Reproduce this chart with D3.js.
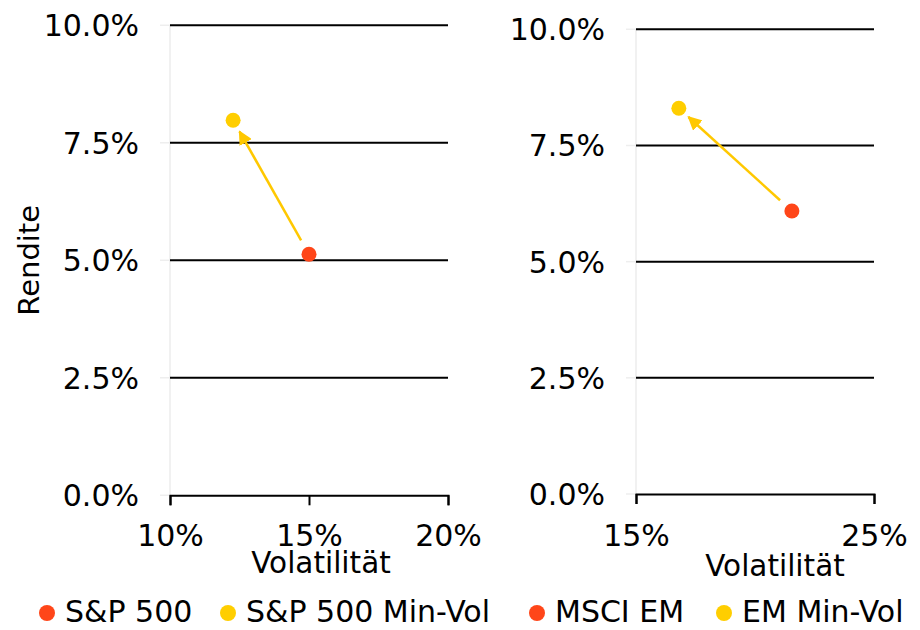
<!DOCTYPE html>
<html>
<head>
<meta charset="utf-8">
<script src="https://cdn.jsdelivr.net/npm/d3@7"></script>
<style>
  html, body { margin: 0; padding: 0; background: #fff; }
  svg text { font-family: "DejaVu Sans", sans-serif; fill: #000; }
</style>
</head>
<body>
<svg id="chart" width="920" height="630"></svg>
<script>
// ---- Data ----
const seriesNames = ["S&P 500", "S&P 500 Min-Vol", "MSCI EM", "EM Min-Vol"];
const seriesColors = ["#FF4619", "#FFCE00", "#FF4619", "#FFCE00"];
const volatility = [15.0, 12.27, 21.55, 16.8];   // x values (%)
const returns = [5.13, 7.98, 6.09, 8.30];         // y values (%)
const panelOfSeries = [0, 0, 1, 1];
const yTicks = [0, 2.5, 5, 7.5, 10];
const leftXTicks = [10, 15, 20];
const rightXTicks = [15, 25];
const leftXDomain = [10, 20];
const rightXDomain = [15, 25];
const yDomain = [0, 10];
const arrowColor = "#FFC800";

const svg = d3.select("#chart");

const panels = [
  { xDomain: leftXDomain, xTicks: leftXTicks, xRange: [170, 448], yRange: [495.3, 25.3], titleX: 321, titleY: 573, showYTitle: true },
  { xDomain: rightXDomain, xTicks: rightXTicks, xRange: [636, 874], yRange: [494, 29.3], titleX: 775, titleY: 576, showYTitle: false }
];

svg.append("defs").append("marker")
  .attr("id", "arrowhead")
  .attr("viewBox", "0 0 10 10")
  .attr("refX", 9).attr("refY", 5)
  .attr("markerUnits", "userSpaceOnUse")
  .attr("markerWidth", 14).attr("markerHeight", 14)
  .attr("orient", "auto")
  .append("path")
  .attr("d", "M0,0 L10,5 L0,10 Z")
  .attr("fill", arrowColor);

panels.forEach((p, pi) => {
  const x = d3.scaleLinear().domain(p.xDomain).range(p.xRange);
  const y = d3.scaleLinear().domain(yDomain).range(p.yRange);
  const g = svg.append("g");

  // light vertical axis line
  g.append("line")
    .attr("x1", x.range()[0]).attr("x2", x.range()[0])
    .attr("y1", y(yDomain[1])).attr("y2", y(yDomain[0]))
    .attr("stroke", "#ececec").attr("stroke-width", 1.5);

  // light tick stubs at y axis
  g.selectAll(".ystub").data(yTicks).enter().append("line")
    .attr("x1", x.range()[0] - 10).attr("x2", x.range()[0])
    .attr("y1", d => y(d)).attr("y2", d => y(d))
    .attr("stroke", "#eeeeee").attr("stroke-width", 1.5);

  // grid lines
  g.selectAll(".grid").data(yTicks.filter(d => d > 0)).enter().append("line")
    .attr("x1", x.range()[0]).attr("x2", x.range()[1])
    .attr("y1", d => y(d)).attr("y2", d => y(d))
    .attr("stroke", "#000").attr("stroke-width", 2);

  // y tick labels
  g.selectAll(".ylab").data(yTicks).enter().append("text")
    .attr("x", x.range()[0] - 31)
    .attr("y", d => y(d) + 11)
    .attr("text-anchor", "end")
    .attr("font-size", 30)
    .text(d => d.toFixed(1) + "%");

  // x axis
  const xAxis = d3.axisBottom(x).tickValues(p.xTicks).tickSize(10).tickSizeOuter(10).tickFormat(d => d + "%");
  const ax = g.append("g").attr("transform", `translate(0,${y(0)})`).call(xAxis);
  ax.select(".domain").attr("stroke", "#000").attr("stroke-width", 2);
  ax.selectAll(".tick line").attr("stroke", "#000").attr("stroke-width", 2);
  ax.selectAll(".tick text")
    .attr("font-size", 30)
    .attr("font-family", "DejaVu Sans")
    .attr("fill", "#000")
    .attr("dy", null)
    .attr("y", 547 - y(0) - 1);

  // x title
  g.append("text")
    .attr("x", p.titleX).attr("y", p.titleY)
    .attr("text-anchor", "middle")
    .attr("font-size", 29.5)
    .text("Volatilität");

  if (p.showYTitle) {
    g.append("text")
      .attr("transform", `translate(39,${(y(0) + y(10)) / 2}) rotate(-90)`)
      .attr("text-anchor", "middle")
      .attr("font-size", 29)
      .text("Rendite");
  }

  // arrows from index to min-vol
  const idx = seriesNames.map((n, i) => i).filter(i => panelOfSeries[i] === pi);
  const from = idx[0], to = idx[1];
  const x0 = x(volatility[from]), y0 = y(returns[from]);
  const x1 = x(volatility[to]), y1 = y(returns[to]);
  const len = Math.hypot(x1 - x0, y1 - y0);
  const ux = (x1 - x0) / len, uy = (y1 - y0) / len;
  g.append("line")
    .attr("x1", x0 + ux * 16).attr("y1", y0 + uy * 16)
    .attr("x2", x1 - ux * 13).attr("y2", y1 - uy * 13)
    .attr("stroke", arrowColor).attr("stroke-width", 2.5)
    .attr("marker-end", "url(#arrowhead)");

  // points
  g.selectAll(".pt").data(idx).enter().append("circle")
    .attr("cx", i => x(volatility[i]))
    .attr("cy", i => y(returns[i]))
    .attr("r", 7.5)
    .attr("fill", i => seriesColors[i]);
});

// legend
const legendX = [47, 228, 537, 724];
const lg = svg.append("g");
seriesNames.forEach((name, i) => {
  lg.append("circle").attr("cx", legendX[i]).attr("cy", 613).attr("r", 8).attr("fill", seriesColors[i]);
  lg.append("text").attr("x", legendX[i] + 18).attr("y", 622).attr("font-size", 30).text(name);
});
</script>
</body>
</html>
